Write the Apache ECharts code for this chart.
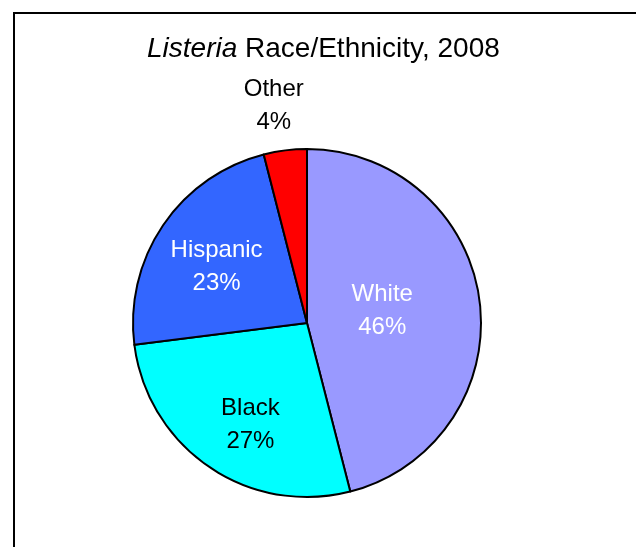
<!DOCTYPE html>
<html>
<head>
<meta charset="utf-8">
<script src="https://cdn.jsdelivr.net/npm/echarts@6/dist/echarts.min.js"></script>
<style>html,body{margin:0;padding:0;background:#fff}#c{width:636px;height:547px}</style>
</head>
<body>
<div id="c"></div>
<script>
const categories = ['White', 'Black', 'Hispanic', 'Other'];
const values = [46, 27, 23, 4];
const titleYear = '2008';

const sliceColors = ['#9999FF', '#00FFFF', '#3366FF', '#FF0000'];
const labelColors = ['#FFFFFF', '#000000', '#FFFFFF', '#000000'];
const labelShift = [[-14, -1], [-6, 27], [-16, -6], [-22, -128]];
const FONT = '"Liberation Sans", Arial, sans-serif';

const chart = echarts.init(document.getElementById('c'), null, {renderer: 'canvas'});
chart.setOption({
  backgroundColor: '#fff',
  animation: false,
  title: {
    text: '{it|Listeria} Race/Ethnicity, ' + titleYear,
    left: 147, top: 35,
    padding: 0,
    textStyle: {
      fontFamily: FONT, fontSize: 28, fontWeight: 'normal', color: '#000',
      rich: { it: { fontFamily: FONT, fontSize: 28, fontStyle: 'italic', color: '#000' } }
    }
  },
  graphic: [{
    type: 'rect', silent: true, z: -1,
    shape: {x: 14, y: 13, width: 700, height: 700},
    style: {fill: 'none', stroke: '#000', lineWidth: 2}
  }],
  series: [{
    type: 'pie',
    center: [307, 323],
    radius: 174,
    startAngle: 90,
    clockwise: true,
    avoidLabelOverlap: false,
    itemStyle: {borderColor: '#000', borderWidth: 2},
    label: {
      position: 'inside',
      formatter: '{b}\n{d}%',
      fontFamily: FONT, fontSize: 24, lineHeight: 33
    },
    labelLine: {show: false},
    emphasis: {disabled: true},
    labelLayout: function (p) {
      const s = labelShift[p.dataIndex];
      return {dx: s[0], dy: s[1]};
    },
    data: categories.map((c, i) => ({
      name: c, value: values[i],
      itemStyle: {color: sliceColors[i]},
      label: {color: labelColors[i]}
    }))
  }]
});
</script>
</body>
</html>
